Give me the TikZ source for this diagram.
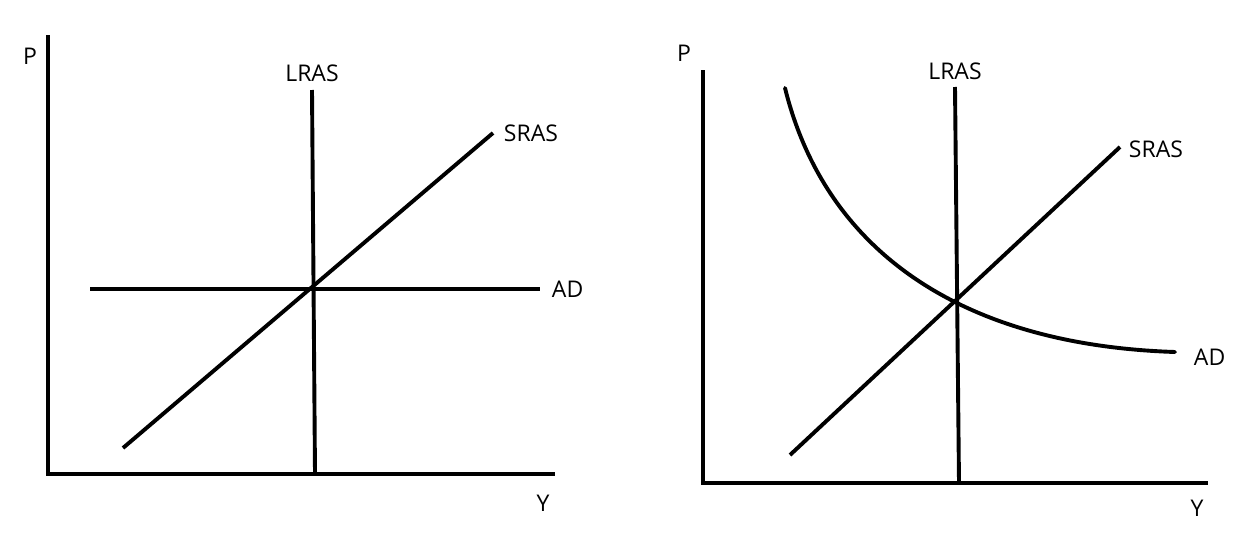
\documentclass[tikz,border=0pt]{standalone}
\usepackage{fontspec}
\setmainfont{Open Sans}
\usepackage{tikz}
\usetikzlibrary{positioning}

\begin{document}
\begin{tikzpicture}[x=1pt,y=-1pt,line width=3.9pt,
  lbl/.style={font=\fontsize{23}{25}\selectfont,inner sep=0pt}]
\useasboundingbox (0,0) rectangle (1245,533);
% left panel
\coordinate (ptop) at (48,35);
\coordinate (orig) at (48,474);
\coordinate (yend) at (555,474);
\draw (ptop)--(orig)--(yend);
\node[lbl] (pl) at (30,56) {P};
\node[lbl] (yl) at (543,503) {Y};
\coordinate (lrt) at (312,90);
\coordinate (lrb) at (315,474);
\draw (lrt)--(lrb);
\node[lbl,above=6pt of lrt] (lras) {LRAS};
\coordinate (srb) at (123,448);
\coordinate (srt) at (493,133);
\draw (srb)--(srt);
\node[lbl,right=9pt of srt] (sras) {SRAS};
\coordinate (adl) at (90,289);
\coordinate (adr) at (540,289);
\draw (adl)--(adr);
\node[lbl,right=10pt of adr] (ad) {AD};
% right panel
\coordinate (ptop2) at (703,70);
\coordinate (orig2) at (703,483);
\coordinate (yend2) at (1208,483);
\draw (ptop2)--(orig2)--(yend2);
\node[lbl] (pr) at (684,53) {P};
\node[lbl] (yr) at (1197,508) {Y};
\coordinate (lrt2) at (955,87);
\coordinate (lrb2) at (959,483);
\draw (lrt2)--(lrb2);
\node[lbl,above=5pt of lrt2] (lras2) {LRAS};
\coordinate (srb2) at (790,455);
\coordinate (srt2) at (1120,147);
\draw (srb2)--(srt2);
\node[lbl,right=7pt of srt2,yshift=-2pt] (sras2) {SRAS};
\coordinate (adt2) at (785,88);
\coordinate (adr2) at (1175,352);
\draw[line cap=round] (adt2) .. controls (825,250) and (960,345) .. (adr2);
\node[lbl,right=17pt of adr2,yshift=-5pt] (ad2) {AD};
\end{tikzpicture}
\end{document}
